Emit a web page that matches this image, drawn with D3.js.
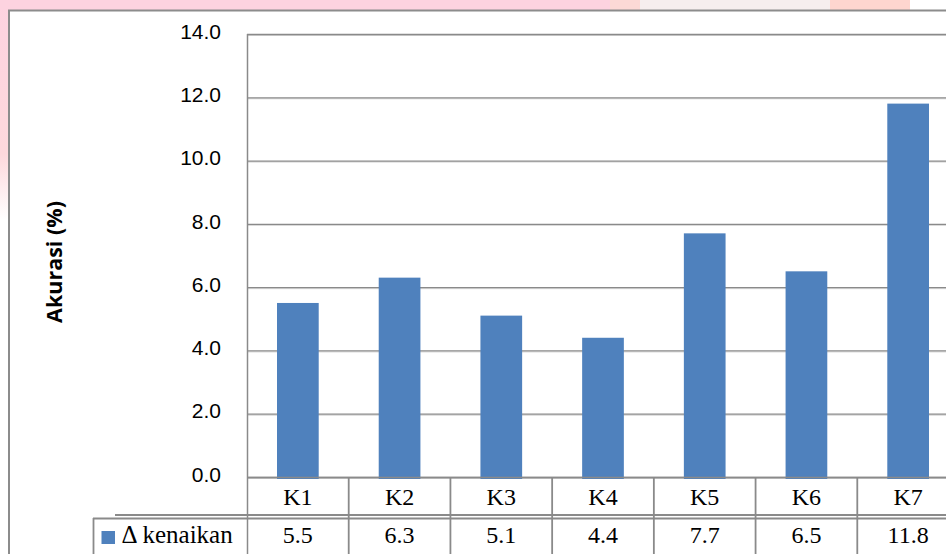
<!DOCTYPE html>
<html>
<head>
<meta charset="utf-8">
<script src="https://cdn.jsdelivr.net/npm/d3@7"></script>
<style>
  html, body { margin: 0; padding: 0; background: #fff; }
  svg { display: block; }
</style>
</head>
<body>
<svg id="chart" width="946" height="554"></svg>
<script>
const categories = ["K1", "K2", "K3", "K4", "K5", "K6", "K7"];
const values = [5.5, 6.3, 5.1, 4.4, 7.7, 6.5, 11.8];
const valueLabels = ["5.5", "6.3", "5.1", "4.4", "7.7", "6.5", "11.8"];
const yTicks = [0, 2, 4, 6, 8, 10, 12, 14];
const seriesName = "\u0394 kenaikan";
const yTitle = "Akurasi (%)";

(function () {
const svg = d3.select("#chart");
const W = 946, H = 554;
const pL = 247, pR = 959, pT = 34, pB = 477;
const gridCol = "#8a8a8a";
const serif = "'Liberation Serif', 'Times New Roman', serif";

// background watermark bits
svg.append("rect").attr("x", 0).attr("y", 0).attr("width", W).attr("height", H).attr("fill", "#fff");
const defs = svg.append("defs");
const lg = defs.append("linearGradient").attr("id", "fadeL").attr("x1", 0).attr("y1", 0).attr("x2", 0).attr("y2", 1);
lg.append("stop").attr("offset", "0").attr("stop-color", "#fdd3e0");
lg.append("stop").attr("offset", "0.7").attr("stop-color", "#fdd8dc");
lg.append("stop").attr("offset", "1").attr("stop-color", "#ffffff");
svg.append("rect").attr("x", 0).attr("y", 0).attr("width", 8).attr("height", 220).attr("fill", "url(#fadeL)");
svg.append("rect").attr("x", 0).attr("y", 0).attr("width", 610).attr("height", 10).attr("fill", "#fdd3e0");
svg.append("rect").attr("x", 610).attr("y", 0).attr("width", 30).attr("height", 10).attr("fill", "#fcd9d6");
svg.append("rect").attr("x", 640).attr("y", 0).attr("width", 190).attr("height", 10).attr("fill", "#f6eeee");
svg.append("rect").attr("x", 830).attr("y", 0).attr("width", 80).attr("height", 10).attr("fill", "#fed6cf");

// outer frame
svg.append("rect").attr("x", 9).attr("y", 10.5).attr("width", W + 20).attr("height", H + 20)
  .attr("fill", "#fff").attr("stroke", "#8c8c8c").attr("stroke-width", 2);

const y = d3.scaleLinear().domain([0, 14]).range([pB, pT]);
const xCol = d3.scaleBand().domain(categories).range([pL, pR]).padding(0);
const xBar = d3.scaleBand().domain(categories).range([pL, pR]).paddingInner(0.59).paddingOuter(0.295);

// gridlines
const grid = svg.append("g");
yTicks.forEach(t => {
  grid.append("line").attr("x1", pL).attr("x2", pR).attr("y1", y(t) + 1.5).attr("y2", y(t) + 1.5)
    .attr("stroke", "#d4d4d4").attr("stroke-width", 1);
  grid.append("line").attr("x1", pL).attr("x2", pR).attr("y1", y(t) + 0.5).attr("y2", y(t) + 0.5)
    .attr("stroke", gridCol).attr("stroke-width", 1.3);
});

// left plot border
svg.append("line").attr("x1", pL + 0.5).attr("x2", pL + 0.5).attr("y1", pT).attr("y2", H)
  .attr("stroke", gridCol).attr("stroke-width", 1.5);

// y tick labels
const yAxis = d3.axisLeft(y).tickValues(yTicks).tickFormat(d3.format(".1f")).tickSize(0).tickPadding(0);
const ya = svg.append("g").attr("transform", "translate(221,0)").call(yAxis);
ya.select(".domain").remove();
ya.selectAll("text").attr("font-family", "'Liberation Sans', Arial, sans-serif").attr("font-size", 21)
  .attr("fill", "#000").attr("dy", "0.2em");

// y title
svg.append("text").attr("transform", "translate(62,262) rotate(-90)").attr("text-anchor", "middle")
  .attr("font-family", "'Open Sans', 'Liberation Sans', sans-serif").attr("font-weight", "bold")
  .attr("font-size", 21.5).attr("fill", "#000").text(yTitle);

// bars
svg.append("g").selectAll("rect").data(values).join("rect")
  .attr("x", (d, i) => xBar(categories[i]))
  .attr("width", xBar.bandwidth())
  .attr("y", d => y(d))
  .attr("height", d => y(0) - y(d) + 2)
  .attr("fill", "#4f81bd");

// data table
const tbl = svg.append("g");
tbl.append("line").attr("x1", pL).attr("x2", pR).attr("y1", pB + 0.5).attr("y2", pB + 0.5)
  .attr("stroke", gridCol).attr("stroke-width", 1.5);
categories.forEach(c => {
  const xe = xCol(c) + xCol.bandwidth();
  tbl.append("line").attr("x1", xe).attr("x2", xe).attr("y1", pB).attr("y2", H)
    .attr("stroke", gridCol).attr("stroke-width", 1.8);
});
tbl.append("line").attr("x1", 115).attr("x2", pR).attr("y1", 515).attr("y2", 515)
  .attr("stroke", gridCol).attr("stroke-width", 1.8);
tbl.append("line").attr("x1", 93).attr("x2", pR).attr("y1", 518.5).attr("y2", 518.5)
  .attr("stroke", gridCol).attr("stroke-width", 1.8);
tbl.append("line").attr("x1", 93.5).attr("x2", 93.5).attr("y1", 518).attr("y2", H)
  .attr("stroke", gridCol).attr("stroke-width", 1.8);
tbl.append("rect").attr("x", 101.5).attr("y", 531).attr("width", 13.5).attr("height", 13).attr("fill", "#4f81bd");
tbl.append("text").attr("x", 121.5).attr("y", 542.5).attr("font-family", serif)
  .attr("font-size", 25).attr("fill", "#000").text(seriesName);

tbl.selectAll("text.cat").data(categories).join("text").attr("class", "cat")
  .attr("x", d => xCol(d) + xCol.bandwidth() / 2).attr("y", 504.5).attr("text-anchor", "middle")
  .attr("font-family", serif).attr("font-size", 24).attr("fill", "#000")
  .text(d => d);
tbl.selectAll("text.val").data(valueLabels).join("text").attr("class", "val")
  .attr("x", (d, i) => xCol(categories[i]) + xCol.bandwidth() / 2).attr("y", 542.5).attr("text-anchor", "middle")
  .attr("font-family", serif).attr("font-size", 24).attr("fill", "#000")
  .text(d => d);
})();
</script>
</body>
</html>
